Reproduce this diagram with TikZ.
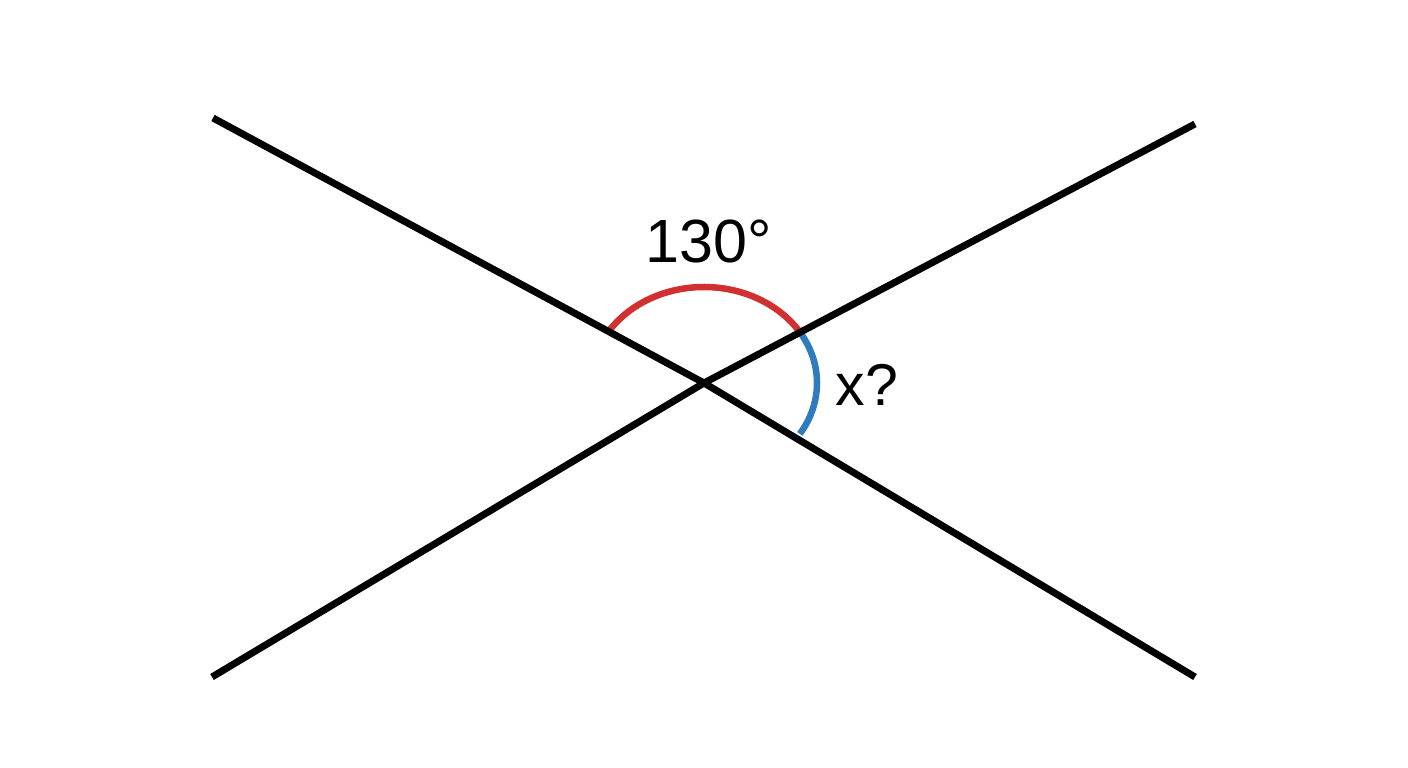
\documentclass[tikz,border=0pt]{standalone}
\usepackage{fontspec}
\setmainfont{Liberation Sans}
\usetikzlibrary{calc}
\begin{document}
\begin{tikzpicture}[x=1pt,y=1pt,
  lineseg/.style={line width=7pt, black},
  anglearc/.style={line width=6.5pt},
  lbl/.style={inner sep=0pt}]
\definecolor{arcred}{RGB}{208,48,48}
\definecolor{arcblue}{RGB}{46,123,192}
\fill[white] (0,0) rectangle (1408,768);
\useasboundingbox (0,0) rectangle (1408,768);
\coordinate (O) at (704,385);
\coordinate (A1) at (213,650);
\coordinate (A2) at (1195,91);
\coordinate (B1) at (212,91);
\coordinate (B2) at (1195,644);
\draw[arcred, anglearc] ($(O)+(146:113 and 96)$) arc[start angle=146, end angle=33, x radius=113, y radius=96];
\draw[arcblue, anglearc] ($(O)+(33:113 and 96)$) arc[start angle=33, end angle=-32, x radius=113, y radius=96];
\draw[lineseg] (A1) -- (O) -- (A2);
\draw[lineseg] (B1) -- (O) -- (B2);
\node[lbl, font=\fontsize{61}{66}\selectfont] (t130) at (709,526) {130°};
\node[lbl, font=\fontsize{59}{64}\selectfont] (tx) at (867,383) {x?};
\end{tikzpicture}
\end{document}
